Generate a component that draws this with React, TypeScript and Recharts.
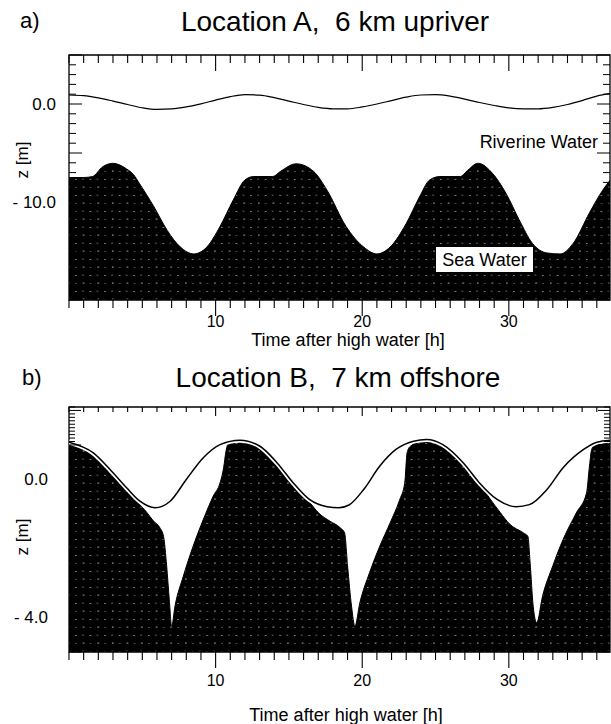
import React from 'react';
import { ComposedChart, Area, Line, XAxis, YAxis, ReferenceArea } from 'recharts';

const FONT = '"Liberation Sans", Arial, Helvetica, sans-serif';

// a) Location A, 6 km upriver: water surface and top of the sea water
const hoursA = [0, 1, 2, 3, 4, 5, 6, 7, 8, 9, 10, 11, 12, 13, 14, 15, 16, 17, 18, 19, 20, 21, 22, 23, 24, 25, 26, 27, 28, 29, 30, 31, 32, 33, 34, 35, 36, 37];
const surfaceA = [0.92, 0.85, 0.62, 0.3, -0.05, -0.38, -0.55, -0.5, -0.3, 0.02, 0.4, 0.75, 0.95, 0.9, 0.65, 0.3, -0.05, -0.35, -0.5, -0.5, -0.3, 0.0, 0.35, 0.7, 0.92, 0.95, 0.8, 0.5, 0.15, -0.15, -0.4, -0.5, -0.5, -0.35, -0.05, 0.35, 0.8, 1.1];
const seaTimesA = [0, 1, 1.6, 2.3, 3.0, 3.9, 4.4, 4.8, 5.8, 6.7, 7.6, 8.5, 9.4, 10.3, 11.2, 12.0, 12.6, 13.9, 14.4, 15.5, 16.7, 17.6, 18.9, 20.1, 21.0, 21.9, 23.0, 23.9, 24.6, 25.3, 26.7, 27.1, 27.9, 28.9, 29.8, 30.7, 31.6, 32.6, 33.5, 34.4, 35.5, 36.4, 37.0];
const seaLevelA = [-7.5, -7.5, -7.4, -6.4, -6.05, -6.6, -7.2, -8.1, -10.5, -12.9, -14.6, -15.3, -14.6, -12.5, -9.8, -7.75, -7.4, -7.4, -6.9, -6.1, -6.9, -8.8, -12.5, -14.6, -15.3, -14.6, -12.2, -9.5, -7.75, -7.4, -7.4, -6.9, -6.05, -7.1, -9.1, -11.8, -14.2, -15.2, -15.3, -14.2, -11.1, -8.8, -7.6];

// b) Location B, 7 km offshore
const hoursB = [0, 1.66, 2.8, 3.93, 4.84, 5.86, 6.9, 8.0, 9.16, 10.3, 11.66, 13.0, 14.2, 15.3, 16.4, 17.6, 18.4, 19.1, 20.1, 21.2, 22.3, 23.5, 24.4, 25.5, 26.9, 28.0, 29.2, 30.5, 31.4, 32.6, 33.7, 35.1, 36.0, 36.9];
const surfaceB = [1.08, 0.77, 0.29, -0.24, -0.63, -0.82, -0.63, 0.0, 0.63, 1.01, 1.14, 0.97, 0.48, -0.1, -0.58, -0.79, -0.82, -0.74, -0.29, 0.39, 0.87, 1.11, 1.16, 1.01, 0.48, -0.1, -0.58, -0.79, -0.73, -0.29, 0.34, 0.87, 1.08, 1.14];
const seaTimesB = [0, 1.66, 2.8, 3.93, 4.6, 5.3, 5.75, 6.2, 6.45, 6.66, 6.84, 7.0, 7.23, 7.8, 8.47, 9.16, 9.84, 10.3, 10.55, 10.7, 10.85, 11.66, 13.0, 14.2, 15.3, 16.2, 17.1, 17.8, 18.5, 18.8, 19.0, 19.27, 19.5, 19.84, 20.5, 21.2, 21.9, 22.56, 22.9, 23.06, 23.25, 24.4, 25.5, 26.9, 28.0, 28.7, 29.4, 30.07, 31.0, 31.3, 31.45, 31.66, 31.9, 32.3, 33.0, 33.7, 34.6, 35.3, 35.5, 35.65, 36.0, 36.9];
const seaLevelB = [1.08, 0.77, 0.29, -0.24, -0.62, -0.95, -1.2, -1.4, -1.65, -2.5, -3.48, -4.25, -3.67, -2.8, -1.93, -1.16, -0.48, -0.1, 0.35, 0.8, 1.03, 1.14, 0.97, 0.48, -0.1, -0.55, -1.0, -1.21, -1.4, -1.55, -2.5, -3.67, -4.25, -3.57, -2.7, -1.93, -1.26, -0.58, -0.1, 0.77, 0.95, 1.16, 1.01, 0.48, -0.1, -0.55, -0.95, -1.3, -1.55, -1.65, -2.4, -3.67, -4.15, -3.38, -2.5, -1.74, -0.97, -0.39, 0.39, 0.87, 1.08, 1.14];

// tick labels
const xLabels = [10, 20, 30];
const yLabelsA = [{ value: 0, text: '0.0' }, { value: -10, text: '- 10.0' }];
const yLabelsB = [{ value: 0, text: '0.0' }, { value: -4, text: '- 4.0' }];

const hourTicks = Array.from({ length: 37 }, (_, i) => i);
const yTicksA = Array.from({ length: 26 }, (_, i) => i - 20);
const yTicksB = Array.from({ length: 72 }, (_, i) => (i - 50) / 10);

const rows = (t: number[], z: number[]) => t.map((v, i) => ({ t: v, z: z[i] }));
const surfA = rows(hoursA, surfaceA);
const seaA = rows(seaTimesA, seaLevelA);
const surfB = rows(hoursB, surfaceB);
const seaB = rows(seaTimesB, seaLevelB);

const X_MAX = 36.9;
const PLOT_RIGHT = 610;

const makeXTick = (plotTop: number, labelDy: number, topMinor: number, topMajor: number) => (props: any) => {
  const { x, y, payload } = props;
  const major = xLabels.includes(payload.value);
  return (
    <g>
      <line x1={x} x2={x} y1={y} y2={y + (major ? 16 : 8)} stroke="#000" strokeWidth={1.1} />
      <line x1={x} x2={x} y1={plotTop} y2={plotTop + (major ? topMajor : topMinor)} stroke="#000" strokeWidth={1.1} />
      {major && (
        <text x={x} y={y + labelDy} textAnchor="middle" dominantBaseline="central" fontSize={16} fontFamily={FONT} fill="#000">
          {payload.value}
        </text>
      )}
    </g>
  );
};

const makeYTick = (labels: { value: number; text: string }[], gap: number, minor: number, majorStep: number) => (props: any) => {
  const { x, y, payload } = props;
  const v = payload.value;
  const lab = labels.find((l) => Math.abs(l.value - v) < 1e-6);
  const major = Math.abs(v / majorStep - Math.round(v / majorStep)) < 1e-6;
  const len = major ? minor + 6 : minor;
  return (
    <g>
      <line x1={x} x2={x + len} y1={y} y2={y} stroke="#000" strokeWidth={1} />
      <line x1={PLOT_RIGHT - len} x2={PLOT_RIGHT} y1={y} y2={y} stroke="#000" strokeWidth={1} />
      {lab && (
        <text x={x - gap} y={y} textAnchor="end" dominantBaseline="central" fontSize={17} fontFamily={FONT} fill="#000">
          {lab.text}
        </text>
      )}
    </g>
  );
};

const Stipple = ({ id }: { id: string }) => (
  <defs>
    <pattern id={id} width={14.6} height={16} patternUnits="userSpaceOnUse">
      <rect width={14.6} height={16} fill="#000" />
      <rect x={2} y={3} width={1.5} height={1} fill="#9a9a9a" />
      <rect x={9.3} y={2.5} width={1} height={1.5} fill="#7a7a7a" />
      <rect x={2.5} y={11} width={1} height={1} fill="#8a8a8a" />
      <rect x={9.8} y={10.5} width={1.5} height={1.2} fill="#a5a5a5" />
    </pattern>
  </defs>
);

const txt = (s: React.CSSProperties): React.CSSProperties => ({
  position: 'absolute',
  fontFamily: FONT,
  color: '#000',
  lineHeight: 1,
  whiteSpace: 'pre',
  ...s,
});

export default function App() {
  return (
    <div style={{ position: 'absolute', left: 0, top: 0, width: 611, height: 724, background: '#fff', overflow: 'hidden' }}>
      <div style={{ position: 'absolute', left: 0, top: 0 }}>
        <ComposedChart width={611} height={360} margin={{ top: 55, right: 1, bottom: 59, left: 68 }}>
          <Stipple id="seaA" />
          <XAxis dataKey="t" type="number" domain={[0, X_MAX]} allowDataOverflow ticks={hourTicks} interval={0}
            height={1} tickSize={0} tickMargin={0} axisLine={false} tickLine={false} tick={makeXTick(55, 21, 8, 16)} />
          <YAxis type="number" domain={[-20, 5]} allowDataOverflow ticks={yTicksA} interval={0}
            width={1} tickSize={0} tickMargin={0} axisLine={false} tickLine={false} tick={makeYTick(yLabelsA, 13, 7, 5)} />
          <Area data={seaA} dataKey="z" type="monotone" baseValue="dataMin" fill="url(#seaA)" fillOpacity={1}
            stroke="#000" strokeWidth={1} isAnimationActive={false} />
          <Line data={surfA} dataKey="z" type="monotone" stroke="#000" strokeWidth={1.2} dot={false} isAnimationActive={false} />
          <ReferenceArea x1={0} x2={X_MAX} y1={-20} y2={5} fill="none" stroke="#000" strokeWidth={1.3} ifOverflow="visible" />
        </ComposedChart>
      </div>
      <div style={{ position: 'absolute', left: 0, top: 360 }}>
        <ComposedChart width={611} height={364} margin={{ top: 47, right: 1, bottom: 71, left: 68 }}>
          <Stipple id="seaB" />
          <XAxis dataKey="t" type="number" domain={[0, X_MAX]} allowDataOverflow ticks={hourTicks} interval={0}
            height={1} tickSize={0} tickMargin={0} axisLine={false} tickLine={false} tick={makeXTick(47, 28, 5, 9)} />
          <YAxis type="number" domain={[-5, 2.1]} allowDataOverflow ticks={yTicksB} interval={0}
            width={1} tickSize={0} tickMargin={0} axisLine={false} tickLine={false} tick={makeYTick(yLabelsB, 21, 6, 1)} />
          <Area data={seaB} dataKey="z" type="monotone" baseValue="dataMin" fill="url(#seaB)" fillOpacity={1}
            stroke="#000" strokeWidth={1} isAnimationActive={false} />
          <Line data={surfB} dataKey="z" type="monotone" stroke="#fff" strokeWidth={5} dot={false} isAnimationActive={false} />
          <Line data={surfB} dataKey="z" type="monotone" stroke="#000" strokeWidth={1.5} dot={false} isAnimationActive={false} />
          <ReferenceArea x1={0} x2={X_MAX} y1={-5} y2={2.1} fill="none" stroke="#000" strokeWidth={1.3} ifOverflow="visible" />
        </ComposedChart>
      </div>

      <div style={txt({ left: 20, top: 10, fontSize: 22 })}>a)</div>
      <div style={txt({ left: 335, top: 22, fontSize: 28, transform: 'translate(-50%, -50%)' })}>Location A,  6 km upriver</div>
      <div style={txt({ left: 22, top: 367, fontSize: 22 })}>b)</div>
      <div style={txt({ left: 338, top: 378, fontSize: 28, transform: 'translate(-50%, -50%)' })}>Location B,  7 km offshore</div>

      <div style={txt({ left: 22, top: 160, fontSize: 17, transform: 'translate(-50%, -50%) rotate(-90deg)' })}>z [m]</div>
      <div style={txt({ left: 22, top: 537, fontSize: 17, transform: 'translate(-50%, -50%) rotate(-90deg)' })}>z [m]</div>

      <div style={txt({ left: 348, top: 340, fontSize: 18, transform: 'translate(-50%, -50%)' })}>Time after high water [h]</div>
      <div style={txt({ left: 346, top: 715, fontSize: 18, transform: 'translate(-50%, -50%)' })}>Time after high water [h]</div>

      <div style={txt({ right: 611 - 598, top: 133, fontSize: 18 })}>Riverine Water</div>
      <div style={txt({ left: 436, top: 247, width: 97, height: 25, fontSize: 18, background: '#fff', display: 'flex', alignItems: 'center', justifyContent: 'center' })}>Sea Water</div>
    </div>
  );
}
